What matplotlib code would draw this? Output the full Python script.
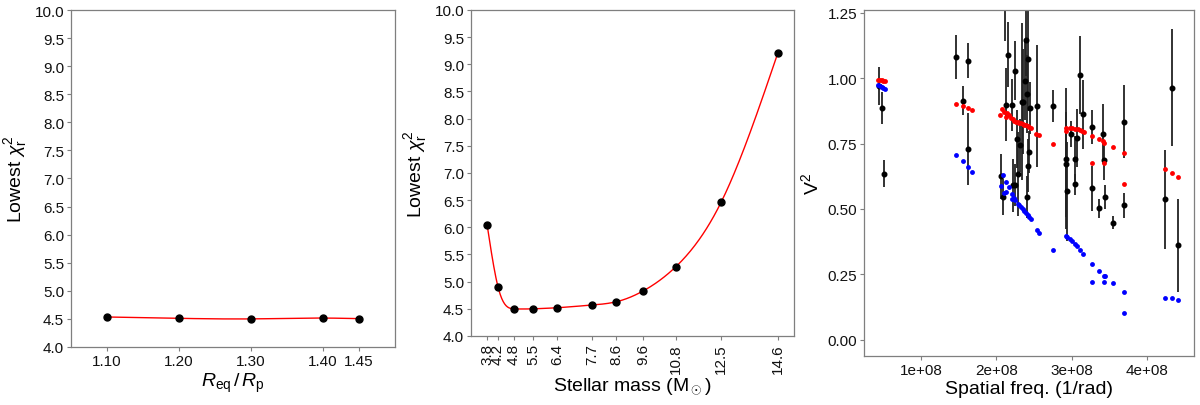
import numpy as np
import matplotlib
matplotlib.use('Agg')
import matplotlib.pyplot as plt

plt.rcParams['font.family'] = ['Liberation Sans', 'DejaVu Sans']
plt.rcParams['mathtext.fontset'] = 'custom'
plt.rcParams['mathtext.rm'] = 'Liberation Sans'
plt.rcParams['mathtext.it'] = 'Liberation Sans:italic'
plt.rcParams['mathtext.bf'] = 'Liberation Sans:bold'

# '#' panel 1: oblateness
ratio = [1.10, 1.20, 1.30, 1.40, 1.45]
chi_ratio = [4.534, 4.51, 4.50, 4.515, 4.505]

# '#' panel 2: stellar mass
mass = [3.8, 4.2, 4.8, 5.5, 6.4, 7.7, 8.6, 9.6, 10.8, 12.5, 14.6]
chi_mass = [6.04, 4.91, 4.50, 4.50, 4.52, 4.57, 4.63, 4.83, 5.27, 6.47, 9.21]

# '#' panel 3: V2 observed (units of 1e8 1/rad)
obs_freq = [0.44, 0.486, 0.509, 1.47, 1.558, 1.620, 1.629,
            2.058, 2.084, 2.124, 2.160, 2.11, 2.208, 2.248, 2.226, 2.253,
            2.270, 2.293, 2.315, 2.337, 2.359, 2.381, 2.390, 2.403, 2.425,
            2.412, 2.425, 2.439, 2.447, 2.536, 2.748,
            2.921, 2.925, 2.934, 2.992, 3.045, 3.050, 3.067, 3.107, 3.156,
            3.266, 3.266, 3.364, 3.421, 3.430, 3.439, 3.545, 3.700, 3.700,
            4.240, 4.329, 4.417]
obs_v2 = [0.970, 0.886, 0.635, 1.080, 0.914, 1.067, 0.730,
          0.624, 0.546, 0.899, 1.090, 1.32, 0.898, 1.029, 0.590, 0.590,
          0.768, 0.633, 0.743, 0.910, 0.910, 0.989, 1.146, 0.546, 1.073,
          0.940, 0.666, 0.717, 0.886, 0.895, 0.893,
          0.692, 0.670, 0.567, 0.785, 0.692, 0.595, 0.772, 1.012, 0.861,
          0.814, 0.579, 0.502, 0.786, 0.687, 0.546, 0.448, 0.834, 0.514,
          0.537, 0.963, 0.361]
obs_err = [0.073, 0.062, 0.051, 0.083, 0.055, 0.066, 0.137,
           0.086, 0.070, 0.138, 0.123, 0.18, 0.100, 0.114, 0.100, 0.080,
           0.110, 0.160, 0.100, 0.300, 0.200, 0.150, 0.137, 0.080, 0.200,
           0.150, 0.100, 0.080, 0.100, 0.233, 0.060,
           0.270, 0.200, 0.190, 0.050, 0.085, 0.040, 0.110, 0.150, 0.133,
           0.064, 0.086, 0.035, 0.116, 0.076, 0.045, 0.025, 0.140, 0.048,
           0.190, 0.224, 0.178]

# '#' model 1 (red)
red_freq = [0.433, 0.455, 0.478, 0.500, 0.522, 1.465, 1.553, 1.620, 1.673,
            2.049, 2.080, 2.107, 2.124, 2.146, 2.173, 2.195, 2.217, 2.240,
            2.262, 2.284, 2.306, 2.328, 2.350, 2.372, 2.394, 2.417, 2.439,
            2.461, 2.527, 2.571, 2.748,
            2.921, 2.925, 2.978, 3.010, 3.045, 3.080, 3.111, 3.142, 3.169,
            3.266, 3.275, 3.364, 3.421, 3.435, 3.430, 3.545, 3.700, 3.700,
            4.240, 4.329, 4.417]
red_v2 = [0.993, 0.992, 0.991, 0.989, 0.988, 0.902, 0.893, 0.885, 0.879,
          0.858, 0.881, 0.872, 0.851, 0.866, 0.860, 0.847, 0.842, 0.838,
          0.834, 0.832, 0.829, 0.827, 0.824, 0.821, 0.819, 0.816, 0.814,
          0.810, 0.787, 0.781, 0.748,
          0.810, 0.797, 0.810, 0.809, 0.807, 0.805, 0.802, 0.799, 0.793,
          0.674, 0.780, 0.767, 0.758, 0.752, 0.675, 0.736, 0.712, 0.594,
          0.651, 0.638, 0.621]

# '#' model 2 (blue)
blue_freq = [0.433, 0.455, 0.478, 0.500, 0.522, 1.465, 1.553, 1.620, 1.673,
             2.062, 2.084, 2.124, 2.164, 2.124, 2.098, 2.204, 2.231, 2.208,
             2.253, 2.284, 2.306, 2.328, 2.350, 2.372, 2.394, 2.417, 2.439,
             2.461, 2.536, 2.571, 2.748,
             2.921, 2.934, 2.978, 3.010, 3.045, 3.076, 3.111, 3.156,
             3.275, 3.364, 3.430, 3.448, 3.266, 3.430, 3.545, 3.700, 3.700,
             4.240, 4.329, 4.417]
blue_v2 = [0.974, 0.970, 0.966, 0.963, 0.959, 0.708, 0.682, 0.661, 0.643,
           0.586, 0.629, 0.604, 0.584, 0.566, 0.560, 0.557, 0.542, 0.538,
           0.534, 0.519, 0.514, 0.507, 0.501, 0.492, 0.484, 0.477, 0.470,
           0.463, 0.421, 0.407, 0.345,
           0.398, 0.392, 0.387, 0.378, 0.365, 0.357, 0.343, 0.328,
           0.290, 0.264, 0.245, 0.243, 0.220, 0.219, 0.217, 0.183, 0.104,
           0.161, 0.158, 0.153]


def natural_spline(x, y, n=400):
    x = np.asarray(x, float)
    y = np.asarray(y, float)
    npts = len(x)
    h = np.diff(x)
    A = np.zeros((npts, npts))
    b = np.zeros(npts)
    A[0, 0] = A[-1, -1] = 1
    for i in range(1, npts - 1):
        A[i, i - 1] = h[i - 1]
        A[i, i] = 2 * (h[i - 1] + h[i])
        A[i, i + 1] = h[i]
        b[i] = 3 * ((y[i + 1] - y[i]) / h[i] - (y[i] - y[i - 1]) / h[i - 1])
    c = np.linalg.solve(A, b)
    xs = np.linspace(x[0], x[-1], n)
    idx = np.clip(np.searchsorted(x, xs) - 1, 0, npts - 2)
    dx = xs - x[idx]
    bc = (y[1:] - y[:-1]) / h - h * (2 * c[:-1] + c[1:]) / 3
    d = (c[1:] - c[:-1]) / (3 * h)
    ys = y[idx] + bc[idx] * dx + c[idx] * dx ** 2 + d[idx] * dx ** 3
    return xs, ys


def style_axes(ax):
    for s in ax.spines.values():
        s.set_color('#7f7f7f')
        s.set_linewidth(0.9)
    ax.tick_params(direction='out', length=3, width=0.8, color='#7f7f7f',
                   labelsize=11, labelcolor='#111111', pad=2)


fig = plt.figure(figsize=(12, 4.06), dpi=100)
ax1 = fig.add_axes([0.0592, 0.1429, 0.27, 0.830])
ax2 = fig.add_axes([0.3925, 0.170, 0.2692, 0.803])
ax3 = fig.add_axes([0.72, 0.1207, 0.275, 0.852])

yticks = np.arange(4.0, 10.01, 0.5)

# '#' left
xs, ys = natural_spline(ratio, chi_ratio)
ax1.plot(xs, ys, color='red', lw=1.0, zorder=2)
ax1.plot(ratio, chi_ratio, 'o', color='black', ms=5, zorder=3)
ax1.set_xlim(1.05, 1.50)
ax1.set_ylim(4.0, 10.0)
ax1.set_xticks(ratio)
ax1.set_xticklabels(['%.2f' % r for r in ratio])
ax1.set_yticks(yticks)
ax1.set_yticklabels(['%.1f' % t for t in yticks])
ax1.set_xlabel(r'$R_{\mathrm{eq}}\,/\,R_{\mathrm{p}}$', fontsize=14, labelpad=2)
ax1.set_ylabel(r'Lowest $\chi^2_{\mathrm{r}}$', fontsize=14, labelpad=4)
style_axes(ax1)

# '#' middle
xs, ys = natural_spline(mass, chi_mass)
ax2.plot(xs, ys, color='red', lw=1.0, zorder=2)
ax2.plot(mass, chi_mass, 'o', color='black', ms=5, zorder=3)
ax2.set_xlim(3.2, 15.2)
ax2.set_ylim(4.0, 10.0)
ax2.set_xticks(mass)
ax2.set_xticklabels(['%.1f' % m for m in mass], rotation=90)
ax2.set_yticks(yticks)
ax2.set_yticklabels(['%.1f' % t for t in yticks])
ax2.set_xlabel(r'Stellar mass (M$_\odot$)', fontsize=14, labelpad=2)
ax2.set_ylabel(r'Lowest $\chi^2_{\mathrm{r}}$', fontsize=14, labelpad=4)
style_axes(ax2)

# '#' right
ax3.errorbar(np.array(obs_freq) * 1e8, obs_v2, yerr=obs_err, fmt='o', color='black',
             ecolor='#222222', elinewidth=1.3, ms=3.3, capsize=0, zorder=2)
ax3.plot(np.array(red_freq) * 1e8, red_v2, 'o', color='red', ms=3.5, mec='none', zorder=3)
ax3.plot(np.array(blue_freq) * 1e8, blue_v2, 'o', color='blue', ms=3.5, mec='none', zorder=3)
ax3.set_xlim(0.243e8, 4.624e8)
ax3.set_ylim(-0.062, 1.26)
vt = [0.0, 0.25, 0.5, 0.75, 1.0, 1.25]
ax3.set_yticks(vt)
ax3.set_yticklabels(['%.2f' % t for t in vt])
ft = [1e8, 2e8, 3e8, 4e8]
ax3.set_xticks(ft)
ax3.set_xticklabels(['1e+08', '2e+08', '3e+08', '4e+08'])
ax3.set_xlabel('Spatial freq. (1/rad)', fontsize=14, labelpad=2)
ax3.set_ylabel(r'V$^2$', fontsize=14, labelpad=4)
style_axes(ax3)

fig.savefig('out.png', dpi=100)
